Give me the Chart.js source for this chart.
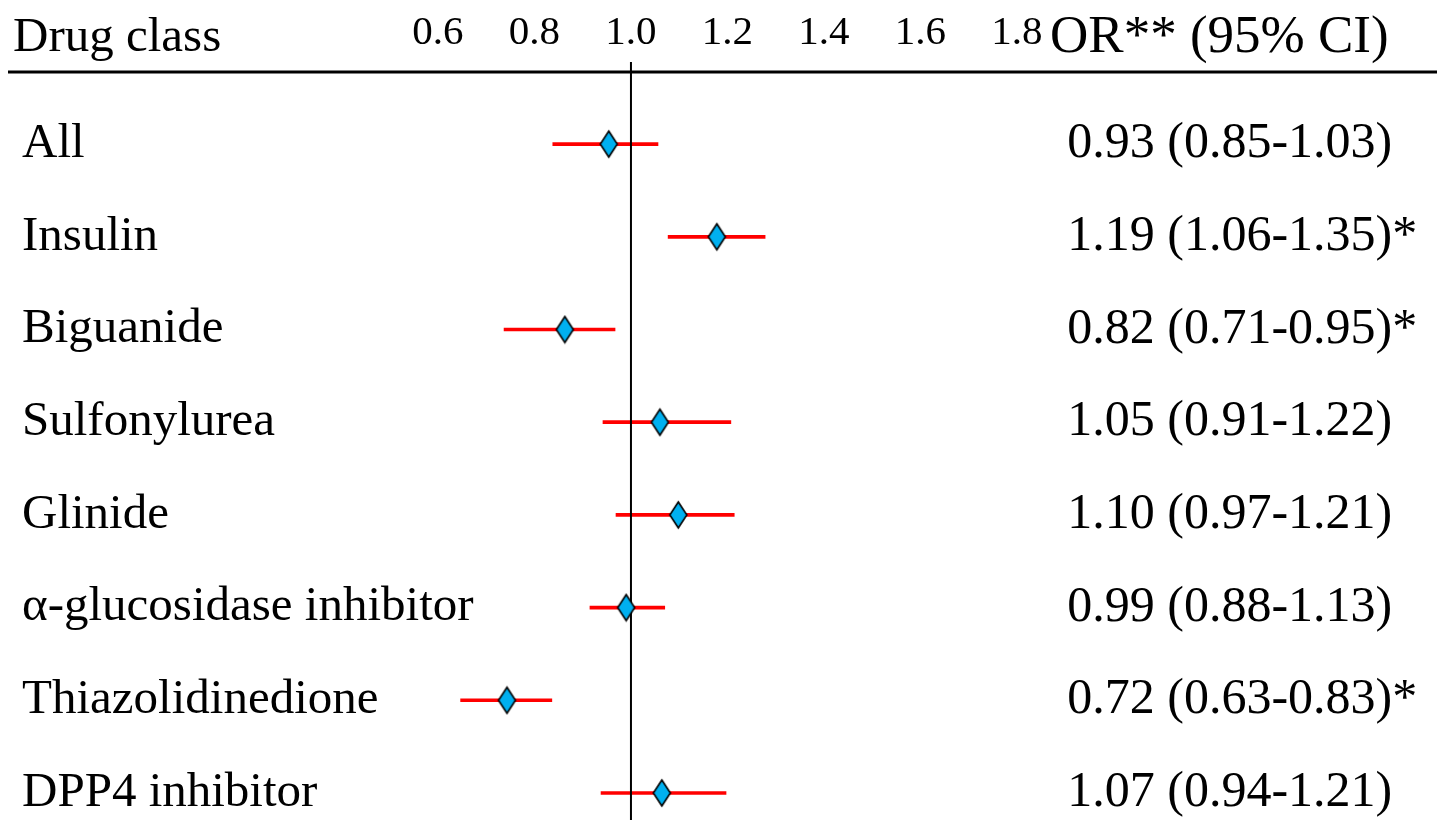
<!DOCTYPE html>
<html>
<head>
<meta charset="utf-8">
<script src="https://cdn.jsdelivr.net/npm/chart.js@4"></script>
<style>
  html, body { margin: 0; padding: 0; background: #fff; }
  #wrap { width: 1437px; height: 828px; position: relative; }
</style>
</head>
<body>
<div id="wrap"><canvas id="forest"></canvas></div>
<script>
// rows, top to bottom
const drugClasses = ["All", "Insulin", "Biguanide", "Sulfonylurea", "Glinide",
  "α-glucosidase inhibitor", "Thiazolidinedione", "DPP4 inhibitor"];
const orText = ["0.93 (0.85-1.03)", "1.19 (1.06-1.35)*", "0.82 (0.71-0.95)*", "1.05 (0.91-1.22)",
  "1.10 (0.97-1.21)", "0.99 (0.88-1.13)", "0.72 (0.63-0.83)*", "1.07 (0.94-1.21)"];

// where the marks sit on the axis in the figure
const orPoint = [0.954, 1.178, 0.863, 1.060, 1.098, 0.990, 0.743, 1.064];
const ciLow   = [0.838, 1.077, 0.737, 0.942, 0.969, 0.915, 0.647, 0.938];
const ciHigh  = [1.056, 1.278, 0.967, 1.207, 1.214, 1.070, 0.836, 1.197];

const xTicks = [0.6, 0.8, 1.0, 1.2, 1.4, 1.6, 1.8];
const refValue = 1.0;

const serif = "'Liberation Serif', 'Times New Roman', serif";

// tall diamond marker
function diamond(w, h) {
  const c = document.createElement("canvas");
  c.width = w + 4; c.height = h + 4;
  const g = c.getContext("2d");
  const cx = c.width / 2, cy = c.height / 2;
  g.beginPath();
  g.moveTo(cx, cy - h / 2);
  g.lineTo(cx + w / 2, cy);
  g.lineTo(cx, cy + h / 2);
  g.lineTo(cx - w / 2, cy);
  g.closePath();
  g.fillStyle = "#00b0f0";
  g.fill();
  g.lineWidth = 1.6;
  g.strokeStyle = "#000";
  g.stroke();
  return c;
}

const rows = drugClasses.map((_, i) => i);

const frame = {
  id: "frame",
  afterDatasetDraw(chart, args) {
    if (args.index !== 0) return;
    const ctx = chart.ctx;
    const x = chart.scales.x.getPixelForValue(refValue);
    ctx.save();
    ctx.strokeStyle = "#000";
    ctx.lineWidth = 2;
    ctx.beginPath();
    ctx.moveTo(x, 62);
    ctx.lineTo(x, 820);
    ctx.stroke();
    ctx.restore();
  },
  afterDraw(chart) {
    const ctx = chart.ctx;
    ctx.save();
    ctx.strokeStyle = "#000";
    ctx.lineWidth = 3;
    ctx.beginPath();
    ctx.moveTo(8, chart.chartArea.top);
    ctx.lineTo(chart.width, chart.chartArea.top);
    ctx.stroke();
    ctx.fillStyle = "#000";
    ctx.textBaseline = "alphabetic";
    ctx.textAlign = "left";
    ctx.font = "49px " + serif;
    ctx.fillText("Drug class", 13, 51);
    ctx.font = "53px " + serif;
    ctx.fillText("OR** (95% CI)", 1050, 52);
    ctx.restore();
  }
};

const yRange = { min: -0.778, max: 7.324 };

function fixSide(width) {
  return s => {
    s.width = width;
    s.paddingTop = 0;
    s.paddingBottom = 0;
  };
}

new Chart(document.getElementById("forest"), {
  type: "bar",
  data: {
    datasets: [{
      type: "bar",
      data: rows.map(i => ({ y: i, x: [ciLow[i], ciHigh[i]] })),
      backgroundColor: "#ff0000",
      borderWidth: 0,
      barThickness: 3,
      yAxisID: "y",
      order: 2
    }, {
      type: "scatter",
      data: rows.map(i => ({ x: orPoint[i], y: i })),
      pointStyle: diamond(17, 26),
      yAxisID: "y",
      order: 1
    }]
  },
  options: {
    indexAxis: "y",
    responsive: true,
    maintainAspectRatio: false,
    animation: false,
    layout: { padding: 0 },
    plugins: { legend: { display: false }, tooltip: { enabled: false } },
    scales: {
      x: {
        type: "linear",
        position: "top",
        min: -0.262,
        max: 1.9,
        grid: { display: false, drawTicks: false },
        border: { display: false },
        afterBuildTicks: s => { s.ticks = xTicks.map(v => ({ value: v })); },
        afterFit: s => { s.height = 72; },
        ticks: {
          padding: 14,
          color: "#000",
          font: { family: serif, size: 41 },
          callback: v => v.toFixed(1)
        }
      },
      y: {
        type: "linear",
        position: "left",
        reverse: true,
        offset: false,
        min: yRange.min,
        max: yRange.max,
        grid: { display: false, drawTicks: false, offset: false },
        border: { display: false },
        afterBuildTicks: s => { s.ticks = rows.map(v => ({ value: v })); },
        afterFit: fixSide(22),
        ticks: {
          mirror: true,
          crossAlign: "near",
          padding: 0,
          autoSkip: false,
          color: "#000",
          font: { family: serif, size: 49 },
          callback: v => drugClasses[v]
        }
      },
      y2: {
        type: "linear",
        position: "right",
        reverse: true,
        offset: false,
        min: yRange.min,
        max: yRange.max,
        grid: { display: false, drawTicks: false, offset: false },
        border: { display: false },
        afterBuildTicks: s => { s.ticks = rows.map(v => ({ value: v })); },
        afterFit: fixSide(371.75),
        ticks: {
          crossAlign: "near",
          padding: 2,
          autoSkip: false,
          color: "#000",
          font: { family: serif, size: 50 },
          callback: v => orText[v]
        }
      }
    }
  },
  plugins: [frame]
});
</script>
</body>
</html>
